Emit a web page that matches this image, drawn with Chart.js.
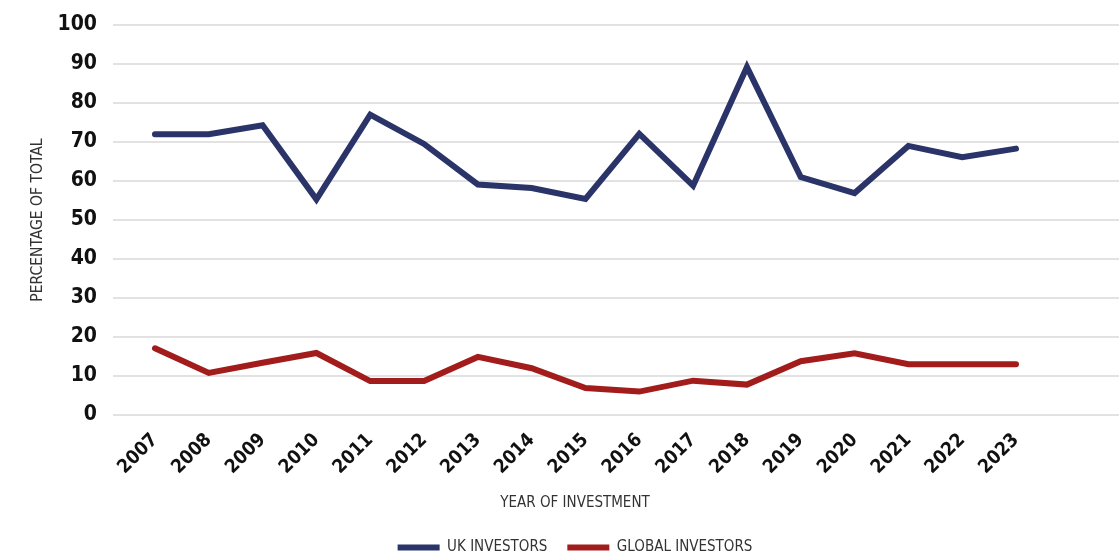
<!DOCTYPE html>
<html>
<head>
<meta charset="utf-8">
<script src="https://cdn.jsdelivr.net/npm/chart.js@4.4.1/dist/chart.umd.min.js"></script>
<style>
  html, body { margin: 0; padding: 0; background: #fff; overflow: hidden; }
  #wrap { position: relative; width: 1150px; height: 565px; }
</style>
</head>
<body>
<div id="wrap"><canvas id="investorChart"></canvas></div>
<script>
// Share of investment by investor origin, 2007-2023
const years = [2007, 2008, 2009, 2010, 2011, 2012, 2013, 2014, 2015, 2016, 2017, 2018, 2019, 2020, 2021, 2022, 2023];
const ukInvestors = [72, 72, 74.3, 55.3, 77, 69.5, 59.1, 58.2, 55.4, 72.1, 58.8, 89.2, 61, 56.9, 69, 66.1, 68.3];
const globalInvestors = [17.1, 10.8, 13.4, 15.9, 8.7, 8.7, 14.9, 12, 6.9, 6, 8.8, 7.8, 13.8, 15.8, 13, 13, 13];
const yTicks = [0, 10, 20, 30, 40, 50, 60, 70, 80, 90, 100];

const NARROW = "'Liberation Sans Narrow', 'DejaVu Sans Condensed', sans-serif";
const NAVY = '#2b3468';
const RED = '#a21c1c';

function toPoints(values) {
  return values.map((v, i) => ({ x: years[i], y: v }));
}

(function () {
  const ctx = document.getElementById('investorChart');

  new Chart(ctx.getContext('2d'), {
    type: 'line',
    data: {
      datasets: [
        {
          label: 'UK INVESTORS',
          data: toPoints(ukInvestors),
          borderColor: NAVY,
          backgroundColor: NAVY,
          borderWidth: 6,
          borderCapStyle: 'round',
          pointRadius: 0,
          tension: 0,
        },
        {
          label: 'GLOBAL INVESTORS',
          data: toPoints(globalInvestors),
          borderColor: RED,
          backgroundColor: RED,
          borderWidth: 6,
          borderCapStyle: 'round',
          pointRadius: 0,
          tension: 0,
        },
      ],
    },
    options: {
      responsive: true,
      maintainAspectRatio: false,
      animation: false,
      layout: { padding: { top: 25, left: 0, right: 0, bottom: 0 } },
      plugins: {
        tooltip: { enabled: false },
        legend: {
          position: 'bottom',
          labels: {
            usePointStyle: true,
            pointStyle: 'line',
            pointStyleWidth: 42,
            boxHeight: 6,
            padding: 20,
            color: '#333',
            font: { family: NARROW, size: 15 },
          },
        },
        title: {
          display: true,
          text: 'YEAR OF INVESTMENT',
          position: 'bottom',
          weight: 500,
          color: '#333',
          font: { family: NARROW, size: 15, weight: 'normal' },
          padding: { top: 7, bottom: 8 },
        },
      },
      scales: {
        x: {
          type: 'linear',
          min: 2006.22,
          max: 2025.49,
          grid: { display: false },
          border: { display: false },
          ticks: {
            stepSize: 1,
            autoSkip: false,
            maxRotation: 45,
            minRotation: 45,
            padding: 6,
            color: '#111',
            font: { family: NARROW, size: 19, weight: 'bold' },
            callback: (v) => (years.includes(v) ? String(v) : ''),
          },
          afterFit: (scale) => {
            scale.height = 72;
            scale.paddingLeft = 0;
            scale.paddingRight = 0;
          },
        },
        y: {
          min: 0,
          max: 100,
          afterBuildTicks: (scale) => { scale.ticks = yTicks.map((v) => ({ value: v })); },
          grid: { color: '#e2e2e2', lineWidth: 2, drawTicks: false },
          border: { display: false },
          ticks: {
            padding: 16,
            color: '#111',
            font: { family: NARROW, size: 21, weight: 'bold' },
          },
          title: {
            display: true,
            text: 'PERCENTAGE OF TOTAL',
            color: '#333',
            font: { family: NARROW, size: 15.5, weight: 'normal' },
            padding: { top: 29, bottom: 0 },
          },
          afterFit: (scale) => {
            scale.width = 113;
            scale.paddingTop = 0;
            scale.paddingBottom = 0;
          },
        },
      },
    },
  });
})();
</script>
</body>
</html>
